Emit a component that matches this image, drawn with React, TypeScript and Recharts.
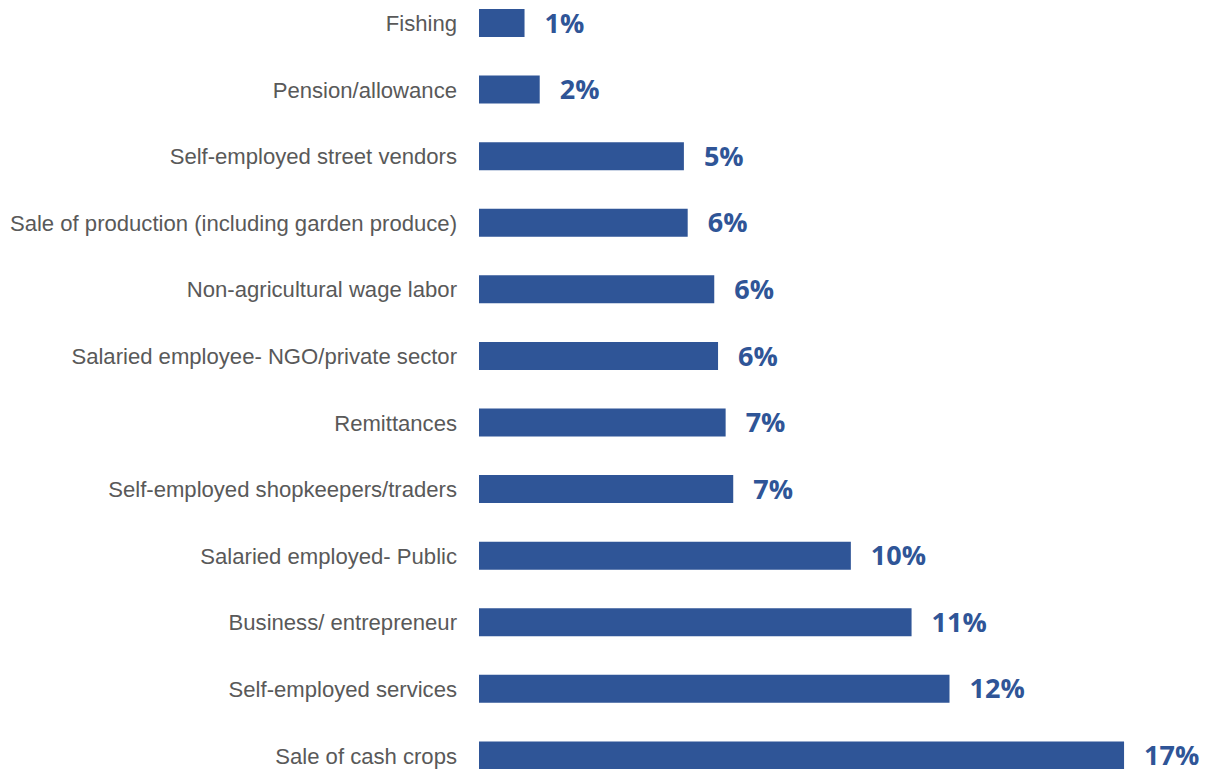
import React from 'react';
import { BarChart, Bar, XAxis, YAxis, LabelList } from 'recharts';

// income sources, top to bottom as drawn
const sources = [
  'Fishing',
  'Pension/allowance',
  'Self-employed street vendors',
  'Sale of production (including garden produce)',
  'Non-agricultural wage labor',
  'Salaried employee- NGO/private sector',
  'Remittances',
  'Self-employed shopkeepers/traders',
  'Salaried employed- Public',
  'Business/ entrepreneur',
  'Self-employed services',
  'Sale of cash crops',
];

// share of households (%)
const shares = [1.2, 1.6, 5.4, 5.5, 6.2, 6.3, 6.5, 6.7, 9.8, 11.4, 12.4, 17.0];

// labels printed next to the bars
const shareLabels = ['1%', '2%', '5%', '6%', '6%', '6%', '7%', '7%', '10%', '11%', '12%', '17%'];

const data = sources.map((name, i) => ({ name, value: shares[i], label: shareLabels[i] }));

const BLUE = '#2F5597';

const App: React.FC = () => {
  return (
    <div style={{ position: 'fixed', top: 0, left: 0, width: 1217, height: 769, overflow: 'hidden', background: '#fff' }}>
      <div style={{ position: 'absolute', top: -10, left: 0 }}>
        <BarChart
          width={1217}
          height={799}
          data={data}
          layout="vertical"
          margin={{ top: 0, right: 55, bottom: 0, left: 0 }}
        >
          <XAxis type="number" domain={[0, 18]} hide />
          <YAxis
            type="category"
            dataKey="name"
            width={479}
            interval={0}
            axisLine={false}
            tickLine={false}
            tickSize={0}
            tickMargin={22}
            tick={{ fill: '#595959', fontSize: 22.1, fontFamily: 'Liberation Sans, Arial, sans-serif' }}
          />
          <Bar dataKey="value" fill={BLUE} barSize={28} isAnimationActive={false}>
            <LabelList
              dataKey="label"
              position="right"
              offset={20}
              fill={BLUE}
              style={{ fontSize: 27, fontWeight: 700, fontFamily: 'Open Sans, sans-serif' }}
            />
          </Bar>
        </BarChart>
      </div>
    </div>
  );
};

export default App;
